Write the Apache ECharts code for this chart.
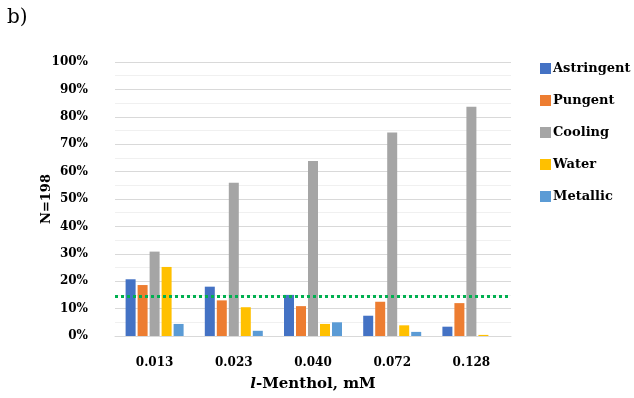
<!DOCTYPE html>
<html>
<head>
<meta charset="utf-8">
<script src="https://cdn.jsdelivr.net/npm/echarts@6/dist/echarts.min.js"></script>
<style>
  html, body { margin: 0; padding: 0; background: #fff; }
  #chart { width: 634px; height: 398px; }
</style>
</head>
<body>
<div id="chart"></div>
<script>
// Concentrations of l-menthol (mM)
const categories = ['0.013', '0.023', '0.040', '0.072', '0.128'];

// Share of panel (N=198) reporting each sensation, in %
const astringent = [20.7, 18.0, 15.0, 7.4, 3.4];
const pungent    = [18.6, 13.0, 10.9, 12.5, 12.0];
const cooling    = [30.8, 55.9, 63.9, 74.3, 83.7];
const water      = [25.2, 10.5, 4.4, 3.9, 0.4];
const metallic   = [4.4, 1.9, 5.0, 1.5, 0];

// Reference level drawn as a dotted line
const thresholdLevel = 14.6;

const yTicks = [0, 10, 20, 30, 40, 50, 60, 70, 80, 90, 100];

const serif = '"DejaVu Serif", "Liberation Serif", serif';

const seriesDefs = [
  { name: 'Astringent', data: astringent, color: '#4472C4' },
  { name: 'Pungent',    data: pungent,    color: '#ED7D31' },
  { name: 'Cooling',    data: cooling,    color: '#A5A5A5' },
  { name: 'Water',      data: water,      color: '#FFC000' },
  { name: 'Metallic',   data: metallic,   color: '#5B9BD5' }
];

const chart = echarts.init(document.getElementById('chart'), null, { renderer: 'canvas' });

const series = seriesDefs.map((s, i) => ({
  name: s.name,
  type: 'bar',
  data: s.data,
  barWidth: 10,
  barGap: '20%',
  itemStyle: { color: s.color },
  emphasis: { disabled: true },
  markLine: i === 0 ? {
    silent: true,
    symbol: ['none', 'none'],
    label: { show: false },
    lineStyle: { color: '#00B050', type: [3, 3], width: 3 },
    data: [{ yAxis: thresholdLevel }]
  } : undefined
}));

chart.setOption({
  animation: false,
  backgroundColor: '#ffffff',
  title: {
    text: 'b)',
    left: 7,
    top: 8,
    padding: 0,
    textStyle: { fontFamily: serif, fontWeight: 'normal', fontSize: 20, color: '#000' }
  },
  legend: {
    orient: 'vertical',
    left: 540,
    top: 62,
    padding: 0,
    itemWidth: 11,
    itemHeight: 11,
    itemGap: 19,
    icon: 'rect',
    textStyle: { fontFamily: serif, fontWeight: 'bold', fontSize: 13, lineHeight: 11, color: '#000', padding: [0, 0, 0, -3] },
    data: seriesDefs.map(s => s.name)
  },
  grid: { left: 115, right: 123, top: 62, bottom: 62, containLabel: false, outerBoundsMode: 'none' },
  xAxis: {
    type: 'category',
    data: categories,
    axisTick: { show: false },
    axisLine: { lineStyle: { color: '#D9D9D9', width: 1 } },
    axisLabel: { fontFamily: serif, fontWeight: 'bold', fontSize: 12, color: '#000', margin: 21 },
    name: '{i|l}{n|-Menthol, mM}',
    nameLocation: 'middle',
    nameGap: 41,
    nameMoveOverlap: false,
    nameTextStyle: {
      rich: {
        i: { fontFamily: serif, fontStyle: 'italic', fontWeight: 'bold', fontSize: 15, color: '#000' },
        n: { fontFamily: serif, fontWeight: 'bold', fontSize: 15, color: '#000' }
      }
    }
  },
  yAxis: {
    type: 'value',
    min: yTicks[0],
    max: yTicks[yTicks.length - 1],
    interval: 10,
    axisLine: { show: false },
    axisTick: { show: false },
    axisLabel: {
      fontFamily: serif, fontWeight: 'bold', fontSize: 12, color: '#000', margin: 27,
      formatter: v => v + '%'
    },
    splitLine: { lineStyle: { color: '#D9D9D9', width: 1 } },
    minorTick: { show: false, splitNumber: 2 },
    minorSplitLine: { show: true, lineStyle: { color: '#F0F0F0', width: 1 } },
    name: 'N=198',
    nameLocation: 'middle',
    nameRotate: 90,
    nameGap: 62,
    nameMoveOverlap: false,
    nameTextStyle: { fontFamily: serif, fontWeight: 'bold', fontSize: 13, color: '#000' }
  },
  series: series
});
</script>
</body>
</html>
